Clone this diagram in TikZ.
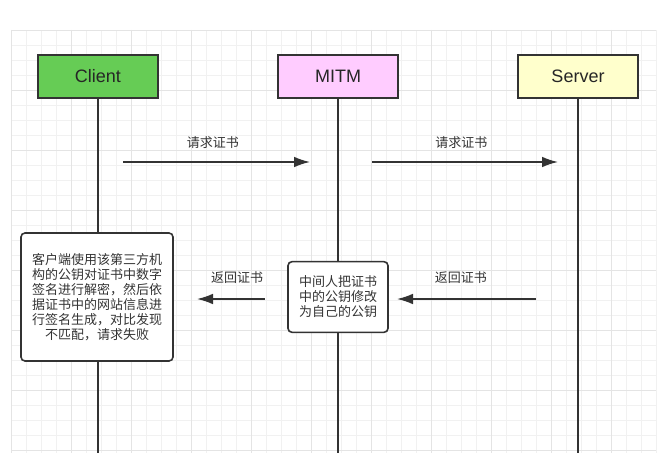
\documentclass[tikz,border=0pt]{standalone}
\usepackage{fontspec}
\setmainfont{Liberation Sans}
\newfontfamily\cjk{Noto Sans CJK SC}
\usetikzlibrary{positioning, arrows.meta}
\definecolor{clientgreen}{HTML}{66CC55}
\definecolor{mitmpink}{HTML}{FFCCFF}
\definecolor{serveryellow}{HTML}{FFFFCC}
\definecolor{linedark}{HTML}{333333}
\definecolor{gridminor}{HTML}{F1F1F1}
\definecolor{gridmajor}{HTML}{E4E4E4}
\tikzstyle{actor} = [draw=linedark, line width=1.5pt, minimum width=90pt,
   minimum height=32.25pt, font=\fontsize{13.5}{16}\selectfont, text=black!85]
\tikzstyle{notebox} = [draw=linedark, fill=white, line width=1.2pt,
   rounded corners=3pt, align=center, text=black!80,
   font=\cjk\fontsize{9.75}{11.25}\selectfont]
\tikzstyle{msg} = [draw=linedark, line width=1.2pt, -{Latex[length=12pt,width=8pt]}]
\tikzstyle{msglabel} = [font=\cjk\fontsize{9.75}{11.25}\selectfont, text=black!80]
\tikzstyle{lifeline} = [draw=linedark, line width=1.9pt]

\begin{document}
\begin{tikzpicture}[x=0.75pt, y=-0.75pt, node distance=88.5pt]
  \useasboundingbox (0,0) rectangle (668,453);

  % background grid
  \foreach \x in {11,26,...,656} \draw[gridminor, line width=0.6pt] (\x,30) -- (\x,453);
  \foreach \y in {30,45,...,450} \draw[gridminor, line width=0.6pt] (11,\y) -- (656,\y);
  \foreach \x in {11,71,...,611} \draw[gridmajor, line width=0.7pt] (\x,30) -- (\x,453);
  \foreach \y in {30,90,...,450} \draw[gridmajor, line width=0.7pt] (11,\y) -- (656,\y);

  % participants
  \node[actor, fill=clientgreen] (client) at (98,76.5) {Client};
  \node[actor, fill=mitmpink, right=of client] (mitm) {MITM};
  \node[actor, fill=serveryellow, right=of mitm] (server) {Server};

  \coordinate (clientEnd) at (client.south |- 0,453);
  \coordinate (mitmEnd) at (mitm.south |- 0,453);
  \coordinate (serverEnd) at (server.south |- 0,453);

  \draw[lifeline] (client) -- (clientEnd);
  \draw[lifeline] (mitm) -- (mitmEnd);
  \draw[lifeline] (server) -- (serverEnd);

  % notes
  \node[notebox, minimum width=114pt, minimum height=96pt] (clientNote) at (97,297)
    {客户端使用该第三方机\\构的公钥对证书中数字\\签名进行解密，然后依\\据证书中的网站信息进\\行签名生成，对比发现\\不匹配，请求失败};
  \node[notebox, minimum width=75pt, minimum height=53pt] (mitmNote) at (mitm |- 0,297)
    {中间人把证书\\中的公钥修改\\为自己的公钥};

  % messages
  \coordinate (req1a) at (123,162);
  \coordinate (req1b) at (310,162);
  \coordinate (req2a) at (372,162);
  \coordinate (req2b) at (558,162);
  \coordinate (ret1a) at (536,299);
  \coordinate (ret1b) at (397,299);
  \coordinate (ret2a) at (265,299);
  \coordinate (ret2b) at (197,299);

  \draw[msg] (req1a) -- node[msglabel, above=6pt, pos=0.48] (req1lbl) {请求证书} (req1b);
  \draw[msg] (req2a) -- node[msglabel, above=6pt, pos=0.48] (req2lbl) {请求证书} (req2b);
  \draw[msg] (ret1a) -- node[msglabel, above=7.5pt, pos=0.54] (ret1lbl) {返回证书} (ret1b);
  \draw[msg] (ret2a) -- node[msglabel, above=7.5pt, pos=0.41] (ret2lbl) {返回证书} (ret2b);
\end{tikzpicture}
\end{document}
